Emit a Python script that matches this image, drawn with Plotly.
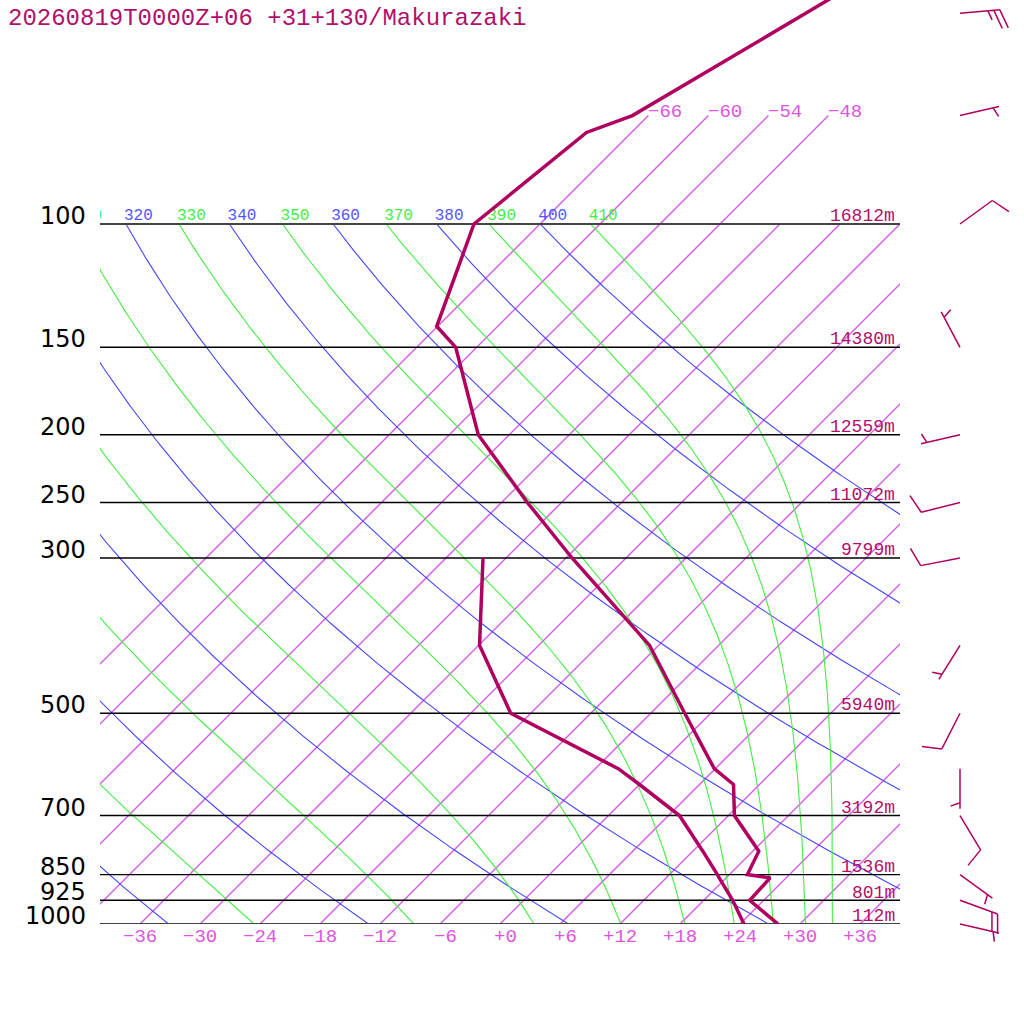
import numpy as np
import plotly.graph_objects as go

TITLE = "20260819T0000Z+06 +31+130/Makurazaki"

# ---- sounding (hPa, degC) ----
P_TEMP = [1000, 925, 859, 850, 787, 700, 632, 600, 500, 400, 300, 250, 200, 150, 140, 100, 74, 70, 50, 30]
TEMP = [27.8, 22.6, 22.4, 19.8, 18.6, 12.6, 9.4, 5.9, -2.6, -12.9, -29.4, -39.4, -51.1, -62.1, -66.1,
        -72.6, -70.5, -67.6, -60.5, -50.0]
P_DEW = [1000, 925, 859, 850, 787, 700, 632, 600, 500, 400, 300]
DEWP = [24.4, 20.9, 17.3, 16.8, 13.0, 7.1, 0.0, -3.7, -20.0, -29.9, -38.3]

# ---- standard levels and geopotential heights ----
P_LEVELS = [1000, 925, 850, 700, 500, 300, 250, 200, 150, 100]
HEIGHTS = [112, 801, 1536, 3192, 5940, 9799, 11072, 12559, 14380, 16812]

# ---- winds (direction deg, speed kt) ----
P_WIND = [1000, 925, 850, 700, 600, 500, 400, 300, 250, 200, 150, 100, 70, 50]
WDIR = [103, 110, 126, 149, 180, 207, 212, 259, 256, 257, 332, 54, 77, 85]
WSPD = [5, 20, 5, 10, 5, 10, 5, 10, 10, 5, 5, 10, 5, 25]

# ---- background lines ----
ISOTHERMS = list(range(-66, 37, 6))
ISO_TOP_LABELS = [-66, -60, -54, -48]
ISO_BOTTOM_LABELS = list(range(-36, 37, 6))
THETA = list(range(240, 401, 20))
THETA_E = list(range(250, 411, 20))

# ---- styling / geometry ----
C_SND = "rgb(176,0,95)"
C_TXT = "rgb(176,16,106)"
C_ISO = "#d660e6"
C_ISO_T = "rgb(221,85,221)"
C_DRY = "rgb(68,68,255)"
C_DRY_T = "rgb(85,85,255)"
C_WET = "rgb(68,238,68)"
C_WET_T = "rgb(68,238,68)"
MONO = "Liberation Mono"
W, H = 1024, 1024
PX_PER_DEG = 10.0
PX_PER_LN = 304.0
SKEW = PX_PER_LN / PX_PER_DEG
X_LEFT, X_RIGHT, Y_BOTTOM = 100, 900, 924
P_TOP = 1000 * np.exp(-Y_BOTTOM / PX_PER_LN)
P_BOT2 = 1000 * np.exp((H - Y_BOTTOM) / PX_PER_LN)
XR = (X_RIGHT - X_LEFT) / PX_PER_DEG / 2


def skx(t, p):
    return np.asarray(t, float) + SKEW * np.log(1000.0 / np.asarray(p, float))


def theta_e_bolton(tk, p):
    tc = tk - 273.15
    es = 6.112 * np.exp(17.67 * tc / (tc + 243.5))
    es = np.minimum(es, 0.95 * p)
    r = 0.622 * es / (p - es)
    return tk * (1000.0 / p) ** (0.2854 * (1 - 0.28 * r)) * np.exp((3.376 / tk - 0.00254) * r * 1000 * (1 + 0.81 * r))


def moist_t(te, p):
    lo = np.full_like(p, 150.0)
    hi = np.full_like(p, 320.0)
    for _ in range(60):
        mid = 0.5 * (lo + hi)
        f = theta_e_bolton(mid, p) > te
        hi = np.where(f, mid, hi)
        lo = np.where(f, lo, mid)
    return 0.5 * (lo + hi) - 273.15


def join(segs):
    xs, ys = [], []
    for sx, sy in segs:
        xs += [float(v) for v in np.atleast_1d(sx)] + [None]
        ys += [float(v) for v in np.atleast_1d(sy)] + [None]
    return xs, ys


fig = go.Figure()

# isotherms (one trace each)
for t in ISOTHERMS:
    ptop = 70 if t <= -48 else 100
    fig.add_trace(go.Scatter(x=[float(skx(t, 1000)), float(skx(t, ptop))], y=[1000.0, float(ptop)],
                             mode="lines", line=dict(color=C_ISO, width=1.5), hoverinfo="skip"))

pg = np.geomspace(1000, 100, 240)
# dry adiabats
segs = []
for th in THETA:
    t = th * (pg / 1000.0) ** 0.2857 - 273.15
    segs.append((skx(t, pg), pg))
xs, ys = join(segs)
fig.add_trace(go.Scatter(x=xs, y=ys, mode="lines", line=dict(color=C_DRY, width=1.1), hoverinfo="skip"))

# moist adiabats
segs = []
for te in THETA_E:
    t = moist_t(te, pg)
    segs.append((skx(t, pg), pg))
xs, ys = join(segs)
fig.add_trace(go.Scatter(x=xs, y=ys, mode="lines", line=dict(color=C_WET, width=1.1), hoverinfo="skip"))

# pressure lines
for p in P_LEVELS:
    edge = p in (1000, 100)
    fig.add_trace(go.Scatter(x=[-XR, XR], y=[p, p], mode="lines",
                             line=dict(color="#444" if edge else "#000", width=2.2 if edge else 1.4),
                             hoverinfo="skip"))

# theta labels at 100 hPa (clipped at the diagram edge)
for vals, col, func in ((THETA, C_DRY_T, lambda v: v * 0.1 ** 0.2857 - 273.15),
                        (THETA_E, C_WET_T, lambda v: moist_t(v, np.array([100.0]))[0])):
    lx, lt = [], []
    for v in vals:
        xv = float(skx(func(v), 100)) - 0.2
        if xv > -XR - 4:
            lx.append(xv)
            lt.append(str(v))
    fig.add_trace(go.Scatter(
        x=lx, y=[100] * len(lx), mode="text", text=lt, textposition="top right",
        textfont=dict(family=MONO, size=16, color=col), cliponaxis=True, hoverinfo="skip"))

# sounding
fig.add_trace(go.Scatter(x=[float(v) for v in skx(TEMP, P_TEMP)], y=P_TEMP, mode="lines",
                         line=dict(color=C_SND, width=3.5), hoverinfo="skip"))
fig.add_trace(go.Scatter(x=[float(v) for v in skx(DEWP, P_DEW)], y=P_DEW, mode="lines",
                         line=dict(color=C_SND, width=3.5), hoverinfo="skip"))

# wind barbs (second x/y pair so they may sit outside the diagram)
def barb(p, d, s, ax0=46.0):
    b = np.radians(d)
    ux, uy = np.sin(b), -np.cos(b)
    a = np.radians(70)
    vx, vy = ux * np.cos(a) - uy * np.sin(a), ux * np.sin(a) + uy * np.cos(a)
    L, sp, fl = 40.0, 6.0, 20.0
    out = [((0, 0), (L * ux, L * uy))]
    nfull, half = s // 10, (s % 10) // 5
    for i in range(nfull):
        px, py = (L - sp * i) * ux, (L - sp * i) * uy
        out.append(((px, py), (px + fl * vx, py + fl * vy)))
    if half:
        i = nfull if nfull > 0 else 1
        px, py = (L - sp * i) * ux, (L - sp * i) * uy
        out.append(((px, py), (px + fl / 2 * vx, py + fl / 2 * vy)))
    segs = []
    for (x0, y0), (x1, y1) in out:
        segs.append((np.array([ax0 + x0 / PX_PER_DEG, ax0 + x1 / PX_PER_DEG]),
                     np.array([p * np.exp(y0 / PX_PER_LN), p * np.exp(y1 / PX_PER_LN)])))
    return segs

segs = []
for p, d, s in zip(P_WIND, WDIR, WSPD):
    segs += barb(p, d, s)
xs, ys = join(segs)
fig.add_trace(go.Scatter(x=xs, y=ys, mode="lines", line=dict(color=C_SND, width=1.5),
                         xaxis="x2", yaxis="y2", hoverinfo="skip"))

ann = []
ann.append(dict(text=TITLE, xref="paper", yref="paper", x=8 / W, y=1 - 18.6 / H, xanchor="left",
                yanchor="middle", showarrow=False, font=dict(family=MONO, size=24, color=C_TXT)))
for p in P_LEVELS:
    ann.append(dict(text=str(p), xref="paper", yref="y", x=86 / W, y=float(np.log10(p)), xanchor="right",
                    yanchor="middle", yshift=8, showarrow=False,
                    font=dict(family="DejaVu Sans", size=24, color="#000")))
for p, h in zip(P_LEVELS, HEIGHTS):
    ann.append(dict(text=f"{h}m", xref="x", yref="y", x=XR - 0.5, y=float(np.log10(p)), xanchor="right",
                    yanchor="middle", yshift=7.8, showarrow=False,
                    font=dict(family=MONO, size=18, color=C_TXT)))
for t in ISO_TOP_LABELS:
    ann.append(dict(text=f"\u2212{abs(t)}", xref="x", yref="y", x=float(skx(t, 70)), y=float(np.log10(70)),
                    xanchor="left", yanchor="middle", yshift=4, showarrow=False,
                    font=dict(family=MONO, size=19, color=C_ISO_T)))
for t in ISO_BOTTOM_LABELS:
    lab = ("+" if t >= 0 else "\u2212") + str(abs(t))
    ann.append(dict(text=lab, xref="x", yref="y", x=t + 1.7, y=3, xanchor="right",
                    yanchor="middle", yshift=-12.6, showarrow=False,
                    font=dict(family=MONO, size=19, color=C_ISO_T)))
for a in ann:
    a.setdefault("borderpad", 0)
    a.setdefault("borderwidth", 0)

fig.update_layout(
    width=W, height=H, margin=dict(l=0, r=0, t=0, b=0), showlegend=False,
    paper_bgcolor="white", plot_bgcolor="white", annotations=ann,
    xaxis=dict(domain=[X_LEFT / W, X_RIGHT / W], range=[-XR, XR], visible=False),
    yaxis=dict(domain=[(H - Y_BOTTOM) / H, 1], type="log", range=[3, float(np.log10(P_TOP))], visible=False),
    xaxis2=dict(domain=[X_RIGHT / W, 1], range=[XR, XR + (W - X_RIGHT) / PX_PER_DEG], visible=False, anchor="y2"),
    yaxis2=dict(domain=[0, 1], type="log", range=[float(np.log10(P_BOT2)), float(np.log10(P_TOP))],
                visible=False, anchor="x2"),
)

fig.write_html("out.html", config={"displayModeBar": False},
               post_script="document.body.style.margin='0';")
